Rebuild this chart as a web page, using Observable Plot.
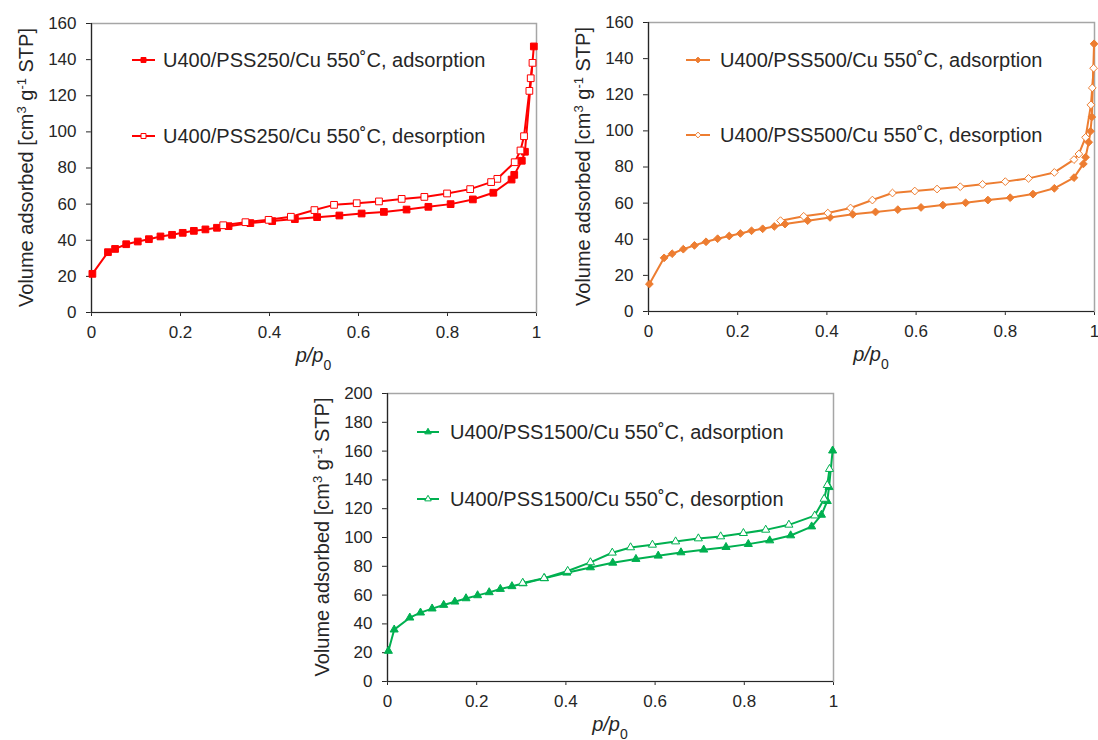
<!DOCTYPE html>
<html>
<head>
<meta charset="utf-8">
<script src="https://cdn.jsdelivr.net/npm/d3@7"></script>
<script src="https://cdn.jsdelivr.net/npm/@observablehq/plot@0.6"></script>
<style>
  html, body { margin: 0; padding: 0; background: #ffffff; }
  body { width: 1098px; height: 740px; overflow: hidden; position: relative;
         font-family: "Liberation Sans", Arial, sans-serif; }
  .panel { position: absolute; }
</style>
</head>
<body>
<div id="p1" class="panel" style="left:0px;top:0px"></div>
<div id="p2" class="panel" style="left:549px;top:0px"></div>
<div id="p3" class="panel" style="left:296px;top:370px"></div>
<script>
// ---------- axis ticks ----------
const xTicks = [0, 0.2, 0.4, 0.6, 0.8, 1];
const xTickLabels = ["0", "0.2", "0.4", "0.6", "0.8", "1"];
const yTicksA = [0, 20, 40, 60, 80, 100, 120, 140, 160];
const yTicksB = [0, 20, 40, 60, 80, 100, 120, 140, 160, 180, 200];

// ---------- U400/PSS250/Cu ----------
const p250Ads = [0.002,0.037,0.053,0.078,0.104,0.129,0.155,0.181,0.205,0.230,0.256,0.282,0.308,0.357,0.406,0.457,0.507,0.557,0.607,0.657,0.708,0.757,0.807,0.857,0.903,0.944,0.950,0.967,0.974,0.994];
const v250Ads = [21.4,33.4,35.2,37.8,39.3,40.6,42.1,43.0,44.1,45.2,46.0,46.9,47.8,49.5,50.6,51.7,52.8,53.7,54.8,55.7,57.0,58.5,60.0,62.6,66.3,73.6,76.2,84.0,89.0,147.3];
const p250Des = [0.991,0.987,0.984,0.972,0.964,0.951,0.912,0.898,0.851,0.799,0.748,0.697,0.646,0.596,0.545,0.501,0.448,0.398,0.346,0.296];
const v250Des = [138.2,129.7,122.7,97.6,89.7,83.2,74.0,72.2,68.3,65.9,64.0,62.9,61.5,60.5,59.6,56.7,53.0,51.3,50.0,48.3];

// ---------- U400/PSS500/Cu ----------
const p500Ads = [0.002,0.035,0.053,0.078,0.103,0.129,0.155,0.181,0.206,0.231,0.256,0.282,0.306,0.357,0.407,0.458,0.509,0.559,0.611,0.660,0.711,0.761,0.811,0.862,0.910,0.954,0.975,0.980,0.987,0.991,0.994,0.999];
const v500Ads = [15.2,29.7,32.0,34.5,36.6,38.6,40.3,41.8,43.2,44.7,45.8,47.1,48.4,50.3,52.1,53.8,55.1,56.4,57.6,58.9,60.2,61.7,63.0,65.0,68.2,74.1,81.7,85.4,93.7,99.8,107.7,148.2];
const p500Des = [0.998,0.995,0.992,0.980,0.965,0.954,0.910,0.852,0.800,0.749,0.699,0.647,0.597,0.547,0.502,0.453,0.402,0.348,0.296];
const v500Des = [134.7,123.8,114.4,96.4,87.2,84.1,77.0,73.7,71.9,70.4,69.1,67.8,66.7,65.6,61.7,57.3,54.5,52.7,50.3];

// ---------- U400/PSS1500/Cu ----------
const p1500Ads = [0.002,0.015,0.050,0.074,0.100,0.126,0.151,0.176,0.202,0.228,0.253,0.279,0.304,0.352,0.402,0.455,0.505,0.557,0.607,0.658,0.709,0.759,0.809,0.857,0.904,0.951,0.973,0.986,0.990,0.998];
const v1500Ads = [21.2,36.0,44.3,47.8,50.6,53.1,55.4,57.7,59.8,61.9,64.2,66.1,68.1,71.6,75.5,79.2,82.4,85.0,87.3,89.6,91.5,93.3,95.4,97.9,101.4,107.6,115.7,125.2,134.9,160.3];
const p1500Des = [0.991,0.986,0.979,0.958,0.900,0.848,0.798,0.747,0.697,0.646,0.594,0.545,0.504,0.455,0.404,0.351,0.303];
const v1500Des = [147.5,136.3,126.8,115.2,108.8,105.3,103.0,100.7,99.3,97.2,94.9,93.1,89.4,82.7,76.7,71.8,68.4];

// ---------- labels ----------
const legend250 = ["U400/PSS250/Cu 550˚C, adsorption", "U400/PSS250/Cu 550˚C, desorption"];
const legend500 = ["U400/PSS500/Cu 550˚C, adsorption", "U400/PSS500/Cu 550˚C, desorption"];
const legend1500 = ["U400/PSS1500/Cu 550˚C, adsorption", "U400/PSS1500/Cu 550˚C, desorption"];

const FONT = '"Liberation Sans", Arial, sans-serif';
const INK = "#262626";

const rows = (ps, vs) => ps.map((p, i) => ({p, v: vs[i]}));

const symbolMap = {square: d3.symbolSquare, diamond2: d3.symbolDiamond2, triangle: d3.symbolTriangle};

function panel(cfg) {
  const ads = rows(cfg.pAds, cfg.vAds);
  const des = rows(cfg.pDes, cfg.vDes);
  const plot = Plot.plot({
    width: cfg.width, height: cfg.height,
    marginLeft: cfg.ml, marginRight: cfg.mr, marginTop: cfg.mt, marginBottom: cfg.mb,
    style: {fontFamily: FONT, fontSize: "17px", color: INK, background: "transparent", overflow: "visible"},
    x: {domain: [0, 1], ticks: xTicks, tickFormat: d => xTickLabels[xTicks.indexOf(d)], tickSize: 4, tickPadding: 9, label: null},
    y: {domain: [0, cfg.yTicks[cfg.yTicks.length - 1]], ticks: cfg.yTicks, tickSize: 5, tickPadding: 10, label: null},
    marks: [
      Plot.frame({stroke: "#a6a6a6", strokeWidth: 1.5}),
      Plot.ruleX([0], {stroke: INK, strokeWidth: 1.2}),
      Plot.ruleY([0], {stroke: INK, strokeWidth: 1.2}),
      Plot.line(ads, {x: "p", y: "v", stroke: cfg.color, strokeWidth: 2}),
      Plot.dot(ads, {x: "p", y: "v", symbol: cfg.symbol, r: cfg.r, fill: cfg.color, stroke: cfg.color, strokeWidth: 1}),
      Plot.line(des, {x: "p", y: "v", stroke: cfg.color, strokeWidth: 2}),
      Plot.dot(des, {x: "p", y: "v", symbol: cfg.symbol, r: cfg.r, fill: "white", stroke: cfg.color, strokeWidth: 1})
    ]
  });

  const svg = d3.select(plot);
  const left = cfg.ml, right = cfg.width - cfg.mr, top = cfg.mt, bottom = cfg.height - cfg.mb;

  // Y axis label
  const yl = svg.append("text")
    .attr("transform", `translate(${left - 58},${(top + bottom) / 2}) rotate(-90)`)
    .attr("text-anchor", "middle")
    .attr("fill", INK)
    .style("font-family", FONT).style("font-size", "20px");
  yl.append("tspan").text("Volume adsorbed [cm");
  yl.append("tspan").attr("baseline-shift", "super").style("font-size", "13px").text("3");
  yl.append("tspan").text(" g");
  yl.append("tspan").attr("baseline-shift", "super").style("font-size", "13px").text("-1");
  yl.append("tspan").text(" STP]");

  // X axis label
  const xl = svg.append("text")
    .attr("x", (left + right) / 2).attr("y", bottom + 50)
    .attr("text-anchor", "middle")
    .attr("fill", INK)
    .style("font-family", FONT).style("font-size", "20px");
  xl.append("tspan").style("font-style", "italic").text("p/p");
  xl.append("tspan").attr("baseline-shift", "sub").style("font-size", "14px").text("0");

  // Legend
  const sym = symbolMap[cfg.symbol];
  const lg = svg.append("g").attr("text-anchor", "start");
  cfg.legend.forEach((label, i) => {
    const y = top + cfg.legendY[i];
    const x0 = left + cfg.legendX0, x1 = left + cfg.legendX1;
    lg.append("line").attr("x1", x0).attr("x2", x1).attr("y1", y).attr("y2", y)
      .attr("stroke", cfg.color).attr("stroke-width", 2);
    lg.append("path").attr("d", d3.symbol(sym, Math.PI * cfg.rl * cfg.rl)())
      .attr("transform", `translate(${(x0 + x1) / 2},${y})`)
      .attr("fill", i === 0 ? cfg.color : "white").attr("stroke", cfg.color).attr("stroke-width", 1);
    lg.append("text").attr("x", left + cfg.legendTX).attr("y", y).attr("dy", "0.35em")
      .attr("text-anchor", "start")
      .attr("fill", INK).style("font-family", FONT).style("font-size", "20px").text(label);
  });

  document.getElementById(cfg.el).appendChild(plot);
}

panel({el: "p1", width: 549, height: 372, ml: 91, mr: 13, mt: 23, mb: 60,
  yTicks: yTicksA, color: "#ff0000", symbol: "square", r: 3.8, rl: 2.8,
  pAds: p250Ads, vAds: v250Ads, pDes: p250Des, vDes: v250Des,
  legend: legend250, legendY: [37, 113], legendX0: 41, legendX1: 64, legendTX: 72});

panel({el: "p2", width: 549, height: 372, ml: 99, mr: 4, mt: 22, mb: 61,
  yTicks: yTicksA, color: "#ed7d31", symbol: "diamond2", r: 3.5, rl: 2.6,
  pAds: p500Ads, vAds: v500Ads, pDes: p500Des, vDes: v500Des,
  legend: legend500, legendY: [38, 113], legendX0: 38, legendX1: 62, legendTX: 72});

panel({el: "p3", width: 549, height: 370, ml: 91, mr: 12, mt: 23, mb: 59,
  yTicks: yTicksB, color: "#00b050", symbol: "triangle", r: 3, rl: 2.4,
  pAds: p1500Ads, vAds: v1500Ads, pDes: p1500Des, vDes: v1500Des,
  legend: legend1500, legendY: [39, 106], legendX0: 30, legendX1: 52, legendTX: 63});
</script>
</body>
</html>
